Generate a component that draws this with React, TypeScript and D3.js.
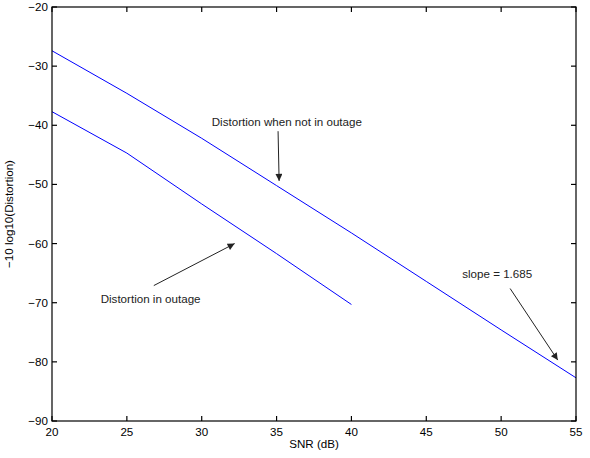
import { useEffect, useRef } from "react";
import * as d3 from "d3";

// SNR points (dB) and the two distortion curves
const snrNotOutage = [20, 25, 30, 35, 40, 45, 50, 55];
const distNotOutage = [-27.4, -34.6, -42.2, -50.2, -58.2, -66.4, -74.6, -82.7];
const snrOutage = [20, 25, 30, 35, 40];
const distOutage = [-37.7, -44.7, -53.3, -61.7, -70.3];

const xTicks = [20, 25, 30, 35, 40, 45, 50, 55];
const yTicks = [-90, -80, -70, -60, -50, -40, -30, -20];

// annotations: text position and arrow tail/head in data units
const notes = [
  { text: "Distortion when not in outage", x: 30.67, y: -40.1, tail: [35.1, -41.0], head: [35.17, -49.4] },
  { text: "Distortion in outage", x: 23.25, y: -70.05, tail: [26.8, -67.1], head: [32.2, -60.0] },
  { text: "slope = 1.685", x: 47.4, y: -65.9, tail: [50.6, -67.6], head: [53.78, -79.7] },
];

export default function App() {
  const svgElem = useRef<SVGSVGElement>(null);

  useEffect(() => {
    const width = 590;
    const height = 458;
    const margin = { left: 52, right: 14, top: 7, bottom: 37 };
    const svg = d3.select(svgElem.current);
    svg.selectAll("*").remove();
    svg.attr("width", width).attr("height", height);

    const x = d3.scaleLinear().domain([20, 55]).range([margin.left, width - margin.right]);
    const y = d3.scaleLinear().domain([-90, -20]).range([height - margin.bottom, margin.top]);
    const font = "Liberation Sans, Arial, Helvetica, sans-serif";
    const fs = 11.6;
    const fmt = (v: number) => String(v).replace("-", "\u2212");

    svg.append("rect").attr("width", width).attr("height", height).attr("fill", "#fff");

    const path = d3.line<[number, number]>();

    svg
      .append("path")
      .attr("d", path(snrNotOutage.map((s, i) => [x(s), y(distNotOutage[i])])))
      .attr("fill", "none")
      .attr("stroke", "#0000ff")
      .attr("stroke-width", 1);
    svg
      .append("path")
      .attr("d", path(snrOutage.map((s, i) => [x(s), y(distOutage[i])])))
      .attr("fill", "none")
      .attr("stroke", "#0000ff")
      .attr("stroke-width", 1);

    // box and ticks (inward, on all sides)
    const x0 = x(20), x1 = x(55), y0 = y(-90), y1 = y(-20);
    const tl = 5;
    const g = svg.append("g").attr("stroke", "#000").attr("stroke-width", 1.2).attr("fill", "none");
    g.append("rect").attr("x", x0).attr("y", y1).attr("width", x1 - x0).attr("height", y0 - y1);
    xTicks.forEach((t) => {
      g.append("line").attr("x1", x(t)).attr("x2", x(t)).attr("y1", y0).attr("y2", y0 - tl);
      g.append("line").attr("x1", x(t)).attr("x2", x(t)).attr("y1", y1).attr("y2", y1 + tl);
    });
    yTicks.forEach((t) => {
      g.append("line").attr("y1", y(t)).attr("y2", y(t)).attr("x1", x0).attr("x2", x0 + tl);
      g.append("line").attr("y1", y(t)).attr("y2", y(t)).attr("x1", x1).attr("x2", x1 - tl);
    });

    svg
      .append("g")
      .selectAll("text")
      .data(xTicks)
      .join("text")
      .attr("x", (d) => x(d))
      .attr("y", y0 + 15)
      .attr("text-anchor", "middle")
      .attr("font-family", font)
      .attr("font-size", fs)
      .text((d) => fmt(d));
    svg
      .append("g")
      .selectAll("text")
      .data(yTicks)
      .join("text")
      .attr("x", x0 - 4)
      .attr("y", (d) => y(d) + 4)
      .attr("text-anchor", "end")
      .attr("font-family", font)
      .attr("font-size", fs)
      .text((d) => fmt(d));

    svg
      .append("text")
      .attr("x", (x0 + x1) / 2)
      .attr("y", y0 + 27)
      .attr("text-anchor", "middle")
      .attr("font-family", font)
      .attr("font-size", fs)
      .text("SNR (dB)");
    svg
      .append("text")
      .attr("transform", `translate(13,${(y0 + y1) / 2}) rotate(-90)`)
      .attr("text-anchor", "middle")
      .attr("font-family", font)
      .attr("font-size", fs)
      .text("\u221210 log10(Distortion)");

    // annotations with arrows
    const defs = svg.append("defs");
    defs
      .append("marker")
      .attr("id", "ah")
      .attr("viewBox", "0 0 10 10")
      .attr("refX", 10)
      .attr("refY", 5)
      .attr("markerWidth", 9)
      .attr("markerHeight", 7)
      .attr("markerUnits", "userSpaceOnUse")
      .attr("orient", "auto")
      .append("path")
      .attr("d", "M0,0 L10,5 L0,10 Z")
      .attr("fill", "#222");

    notes.forEach((n) => {
      svg
        .append("text")
        .attr("x", x(n.x))
        .attr("y", y(n.y))
        .attr("font-family", font)
        .attr("font-size", fs)
        .attr("fill", "#222")
        .text(n.text);
      svg
        .append("line")
        .attr("x1", x(n.tail[0]))
        .attr("y1", y(n.tail[1]))
        .attr("x2", x(n.head[0]))
        .attr("y2", y(n.head[1]))
        .attr("stroke", "#222")
        .attr("stroke-width", 1)
        .attr("marker-end", "url(#ah)");
    });
  }, []);

  return (
    <svg ref={svgElem} style={{ position: "absolute", left: 0, top: 0, display: "block" }}></svg>
  );
}
